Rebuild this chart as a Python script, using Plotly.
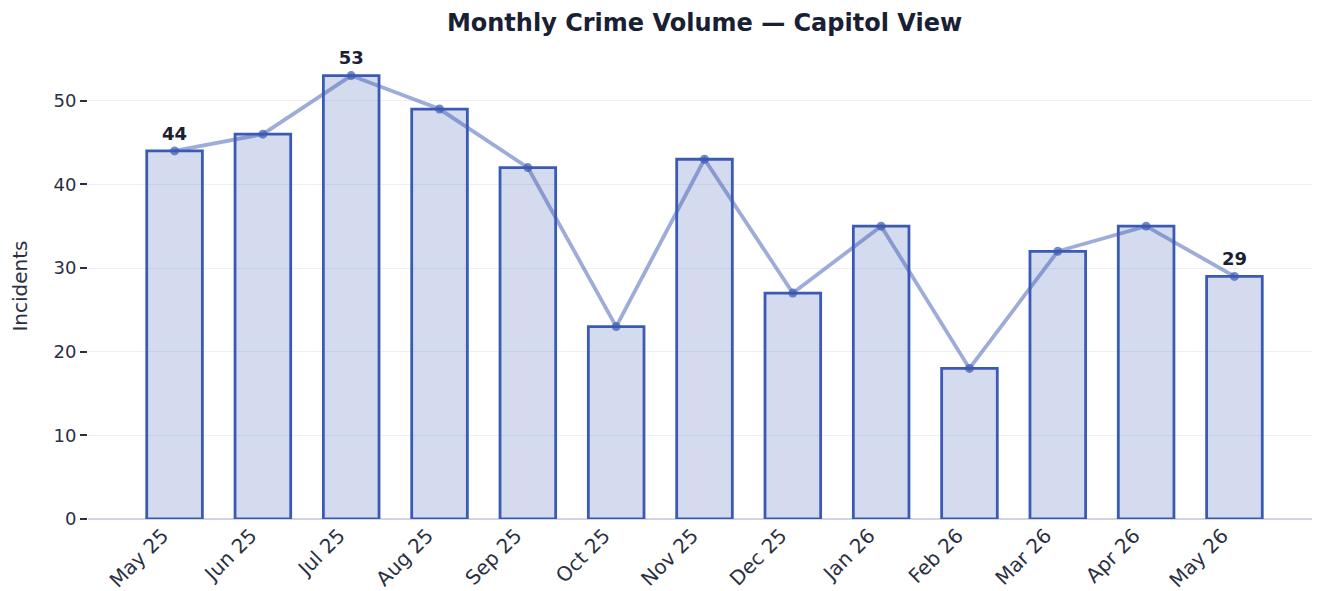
import plotly.graph_objects as go

months = ["May 25", "Jun 25", "Jul 25", "Aug 25", "Sep 25", "Oct 25", "Nov 25",
          "Dec 25", "Jan 26", "Feb 26", "Mar 26", "Apr 26", "May 26"]
incidents = [44, 46, 53, 49, 42, 23, 43, 27, 35, 18, 32, 35, 29]
label_idx = [0, 2, 12]

labels = [str(v) if i in label_idx else "" for i, v in enumerate(incidents)]
xs = list(range(len(months)))

fig = go.Figure()
fig.add_trace(go.Bar(
    x=xs, y=incidents,
    marker=dict(color="rgba(59,89,178,0.22)",
                line=dict(color="#3a5ab4", width=2.8)),
    width=0.63, hoverinfo="skip", showlegend=False,
))
fig.add_trace(go.Scatter(
    x=xs, y=incidents, mode="lines+markers+text",
    line=dict(color="rgba(59,89,178,0.5)", width=3.8),
    marker=dict(color="rgba(59,89,178,0.7)", size=9),
    text=labels, textposition="top center",
    textfont=dict(family="DejaVu Sans", size=18, color="#1a2033", weight="bold"),
    cliponaxis=False, showlegend=False,
))

fig.update_layout(
    width=1320, height=591,
    margin=dict(l=80, r=7, t=45, b=75),
    paper_bgcolor="white", plot_bgcolor="white",
    font=dict(family="DejaVu Sans", size=19, color="#2a3042"),
    title=dict(text="<b>Monthly Crime Volume — Capitol View</b>", x=0.5, xanchor="center",
               xref="paper", y=0.976, yanchor="middle",
               font=dict(family="DejaVu Sans", size=24, color="#1a2033")),
    xaxis=dict(tickmode="array", tickvals=xs, ticktext=months, tickangle=-45,
               range=[-0.98, 12.98], showgrid=False, zeroline=False,
               showline=False, ticks="", tickfont=dict(size=20),
               ticklabelshift=-12),
    yaxis=dict(range=[0, 55.7], tick0=0, dtick=10, showgrid=True,
               gridcolor="#eef0f5", gridwidth=1, zeroline=True,
               zerolinecolor="#d0d3e2", zerolinewidth=2,
               ticks="outside", ticklen=7, tickcolor="#2a3042", tickwidth=2,
               title=dict(text="Incidents", font=dict(size=20), standoff=21),
               tickfont=dict(size=18)),
)

fig.write_html("out.html")
